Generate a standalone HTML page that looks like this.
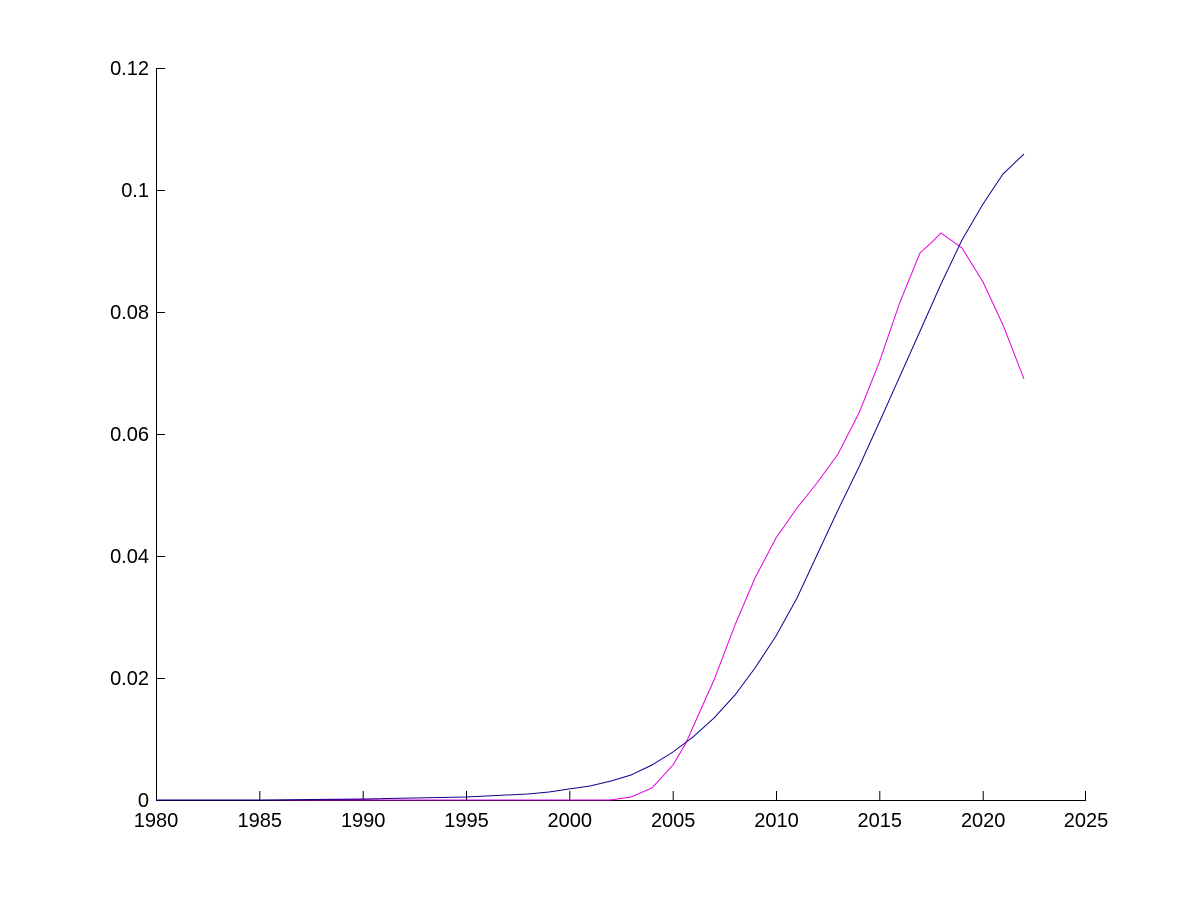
<!DOCTYPE html>
<html><head><style>body{margin:0;background:#fff}svg text{font-family:"Liberation Sans",sans-serif;font-size:20px}</style></head>
<body>
<svg width="1200" height="900" viewBox="0 0 1200 900">
<rect width="1200" height="900" fill="#fff"/>
<g stroke="#000" stroke-width="1" fill="none">
<line x1="156.5" y1="68" x2="156.5" y2="800"/>
<line x1="156" y1="800.5" x2="1086" y2="800.5"/>
<g>
<line x1="156.5" y1="800" x2="156.5" y2="791"/>
<line x1="259.8" y1="800" x2="259.8" y2="791"/>
<line x1="363.2" y1="800" x2="363.2" y2="791"/>
<line x1="466.5" y1="800" x2="466.5" y2="791"/>
<line x1="569.8" y1="800" x2="569.8" y2="791"/>
<line x1="673.2" y1="800" x2="673.2" y2="791"/>
<line x1="776.5" y1="800" x2="776.5" y2="791"/>
<line x1="879.8" y1="800" x2="879.8" y2="791"/>
<line x1="983.2" y1="800" x2="983.2" y2="791"/>
<line x1="1085.5" y1="800" x2="1085.5" y2="791"/>
</g>
<g>
<line x1="156" y1="678.5" x2="165" y2="678.5"/>
<line x1="156" y1="556.5" x2="165" y2="556.5"/>
<line x1="156" y1="434.5" x2="165" y2="434.5"/>
<line x1="156" y1="312.5" x2="165" y2="312.5"/>
<line x1="156" y1="190.5" x2="165" y2="190.5"/>
<line x1="156" y1="68.5" x2="165" y2="68.5"/>
</g>
</g>
<g text-anchor="middle">
<text x="156" y="827">1980</text><text x="259.8" y="827">1985</text><text x="363.2" y="827">1990</text><text x="466.5" y="827">1995</text><text x="569.8" y="827">2000</text><text x="673.2" y="827">2005</text><text x="776.5" y="827">2010</text><text x="879.8" y="827">2015</text><text x="983.2" y="827">2020</text><text x="1086" y="827">2025</text>
</g>
<g text-anchor="end">
<text x="149" y="807">0</text><text x="149" y="685">0.02</text><text x="149" y="563">0.04</text><text x="149" y="441">0.06</text><text x="149" y="319">0.08</text><text x="149" y="197">0.1</text><text x="149" y="75">0.12</text>
</g>
<polyline fill="none" stroke="#e000e0" stroke-width="1" points="156,800 610,800 631,797 652,788 673,765 686,743 693,727 714,680 735,625 755,578 776,538 797,508 817,483 838,454 859,413 879,363 900,302 920,253 931,243 941,233 962,248 983,282 1003,325 1024,379"/>
<polyline fill="none" stroke="#10008c" stroke-width="1" points="156,800 259,800 363,799 466,797 528,794 549,792 569,789 590,786 611,781 631,775 652,765 673,752 693,737 714,718 735,695 755,668 776,636 797,598 817,555 838,510 859,467 879,423 900,376 921,329 941,284 962,240 983,204 1003,174 1024,154"/>
</svg>
</body></html>
